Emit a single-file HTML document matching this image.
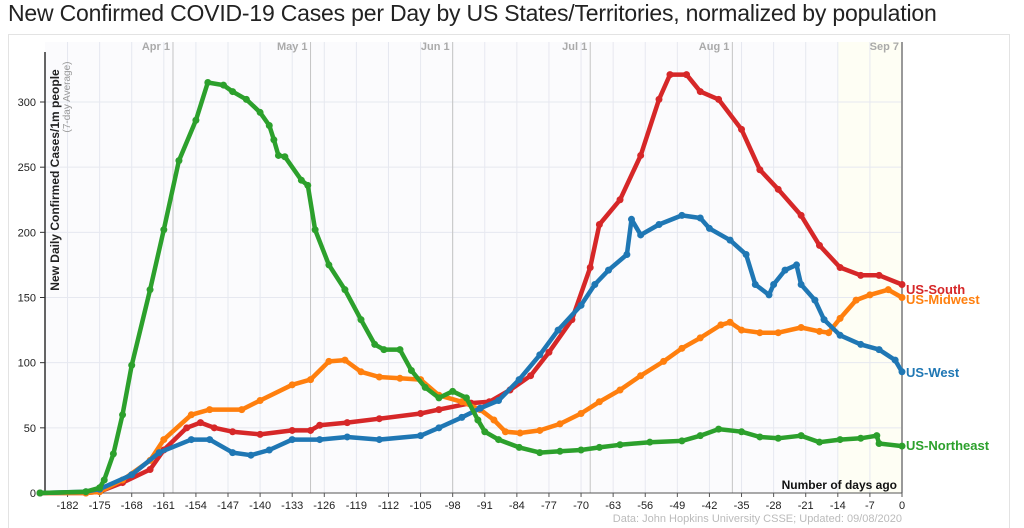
<!DOCTYPE html>
<html><head><meta charset="utf-8"><style>
body{margin:0;background:#fff;width:1024px;height:528px;overflow:hidden;font-family:"Liberation Sans",sans-serif}
</style></head><body>
<div style="position:absolute;left:8px;top:0px;font-size:23px;color:#222;white-space:nowrap;letter-spacing:-0.2px">New Confirmed COVID-19 Cases per Day by US States/Territories, normalized by population</div>
<svg id="chart" width="1024" height="528" style="position:absolute;left:0;top:0" xmlns="http://www.w3.org/2000/svg">
<rect x="8.5" y="34.5" width="1001" height="500" fill="#fff" stroke="#e3e3e3"/>
<g id="grid"></g><g id="axes"></g><g id="series"></g><g id="labels"></g>
</svg>
<script>
const tickDays=[-182,-175,-168,-161,-154,-147,-140,-133,-126,-119,-112,-105,-98,-91,-84,-77,-70,-63,-56,-49,-42,-35,-28,-21,-14,-7,0];
const yTicks=[0,50,100,150,200,250,300];
const monthLabels=["Apr 1","May 1","Jun 1","Jul 1","Aug 1","Sep 7"];
const monthDays=[-159,-129,-98,-68,-37,0];
const seriesNames=["US-South","US-Midwest","US-West","US-Northeast"];
const seriesColors=["#d62728","#ff7f0e","#1f77b4","#2ca02c"];
const southDays=[-188,-178,-175,-170,-164,-161,-156,-153,-150,-146,-140,-133,-129,-127,-121,-114,-105,-101,-94,-90,-85.5,-81,-77,-72,-68,-66,-61.5,-57,-53,-50.6,-47,-44,-40,-35,-31,-27,-22,-18,-13.5,-9,-5,0];
const southVals=[0,0,1,8,18,33,50,54,50,47,45,48,48,52,54,57,61,64,69,70,79,90,108,133,173,206,225,259,302,321,321,308,302,279,248,233,213,190,173,167,167,160];
const midwestDays=[-188,-178,-175,-170,-164,-161,-155,-151,-144,-140,-133,-129,-125,-121.5,-118,-114,-109.5,-105,-101,-96,-92,-89,-86.5,-83.3,-79,-74.6,-70,-66,-61.5,-57,-52,-48,-44,-39.5,-37.5,-35,-31,-27,-22,-18,-16,-13.5,-10,-7,-3,0];
const midwestVals=[0,0,1,10,25,41,60,64,64,71,83,87,101,102,93,89,88,87,75,70,64,56,47,46,48,53,61,70,79,90,101,111,119,129,131,125,123,123,127,124,123,134,148,152,156,150];
const westDays=[-188,-178,-175,-168,-162,-155,-151,-146,-142,-138,-133,-127,-121,-114,-105,-101,-96,-92,-88,-83.5,-79,-75,-70,-67,-64,-60,-59,-57,-53,-48,-44,-42,-37.5,-34,-32,-29,-28,-25.5,-23,-22,-19,-17,-13.5,-9,-5,-1.5,0];
const westVals=[0,1,3,14,31,41,41,31,29,33,41,41,43,41,44,50,58,65,71,87,106,125,144,160,171,183,210,198,206,213,211,203,194,183,160,152,160,171,175,160,148,133,121,114,110,102,93];
const neDays=[-188,-178,-175,-174,-172,-170,-168,-164,-161,-157.7,-154,-151.4,-148,-146,-143,-140,-138,-137,-136,-134.6,-131,-129.6,-128,-125,-121.5,-118,-115,-113,-109.5,-107,-104,-101,-98,-95,-92.5,-91,-88,-83.5,-79,-74.6,-70,-66,-61.5,-55,-48,-44,-40,-35,-31,-27,-22,-18,-13.5,-9,-5.5,-5,0];
const neVals=[0,1,4,10,30,60,98,156,202,255,286,315,313,308,302,292,282,271,259,258,240,236,202,175,156,133,114,110,110,94,81,73,78,73,56,47,41,35,31,32,33,35,37,39,40,44,49,47,43,42,44,39,41,42,44,38,36];
const allDays=[southDays,midwestDays,westDays,neDays];
const allVals=[southVals,midwestVals,westVals,neVals];
const NS="http://www.w3.org/2000/svg";
const X0=902,PX=4.585,Y0=493,PY=1.3033;
function xs(d){return X0+d*PX;}
function ys(v){return Y0-v*PY;}
function mk(tag,attrs,parent,text){const e=document.createElementNS(NS,tag);for(const k in attrs)e.setAttribute(k,attrs[k]);if(text!==undefined)e.textContent=text;parent.appendChild(e);return e;}
const grid=document.getElementById('grid'),axes=document.getElementById('axes'),ser=document.getElementById('series'),lab=document.getElementById('labels');
let bg=mk('rect',{x:45,y:42,width:857,height:451,fill:'#fbfbfd'},grid);


let hl=mk('rect',{x:xs(-14),y:42,width:xs(0)-xs(-14),height:451,fill:'#fefef4'},grid);


tickDays.forEach(d=>{
 let g=mk('line',{x1:xs(d),x2:xs(d),y1:42,y2:493,stroke:'#e6e8f0','stroke-width':1},grid);
 
 
 let t=mk('text',{x:xs(d),y:509,'text-anchor':'middle','font-size':11,fill:'#222'},axes,String(d));
 
 
 mk('line',{x1:xs(d),x2:xs(d),y1:493,y2:497,stroke:'#555'},axes);
});
yTicks.forEach(v=>{
 let g=mk('line',{x1:45,x2:902,y1:ys(v),y2:ys(v),stroke:'#e6e8f0'},grid);
 
 
 let t=mk('text',{x:36,y:ys(v)+4,'text-anchor':'end','font-size':11,fill:'#222'},axes,String(v));
 
 
 mk('line',{x1:40,x2:45,y1:ys(v),y2:ys(v),stroke:'#333'},axes);
});
monthDays.forEach((d,i)=>{
 let l=mk('line',{x1:xs(d),x2:xs(d),y1:42,y2:493,stroke:i==5?'#999':'#c4c4c4','stroke-width':i==5?2:1},grid);
 
 
 let t=mk('text',{x:xs(d)-3,y:50,'text-anchor':'end','font-size':11,fill:'#aaa','font-weight':'bold'},axes,monthLabels[i]);
 
 
});
let ya=mk('line',{x1:45,x2:45,y1:52,y2:493,stroke:'#333','stroke-width':1.5},axes);


let xa=mk('line',{x1:45,x2:902,y1:493,y2:493,stroke:'#555'},axes);


let yt=mk('text',{transform:'translate(59,180) rotate(-90)','text-anchor':'middle','font-size':12,'font-weight':'bold',fill:'#222'},axes,'New Daily Confirmed Cases/1m people');


let ys2=mk('text',{transform:'translate(70,97) rotate(-90)','text-anchor':'middle','font-size':10,fill:'#999'},axes,'(7-day Average)');


let xt=mk('text',{x:897,y:489,'text-anchor':'end','font-size':12,'font-weight':'bold',fill:'#111'},axes,'Number of days ago');


let src=mk('text',{x:902,y:522,'text-anchor':'end','font-size':11,fill:'#bbb'},axes,'Data: John Hopkins University CSSE; Updated: 09/08/2020');


const order=[0,1,2,3];
const labelY=[290,300,373,446];
order.forEach(i=>{
 const g=mk('g',{},ser);
 
 
 const pts=allDays[i].map((d,j)=>xs(d).toFixed(1)+','+ys(allVals[i][j]).toFixed(1)).join(' ');
 mk('polyline',{points:pts,fill:'none',stroke:seriesColors[i],'stroke-width':4.5,'stroke-linejoin':'round'},g);
 allDays[i].forEach((d,j)=>{
  const c=mk('circle',{cx:xs(d),cy:ys(allVals[i][j]),r:3.5,fill:seriesColors[i]},g);
  
  
 });
 const t=mk('text',{x:906,y:labelY[i]+4,'font-size':13,'font-weight':'bold',fill:seriesColors[i]},lab,seriesNames[i]);
 
 
});
</script>
</body></html>
